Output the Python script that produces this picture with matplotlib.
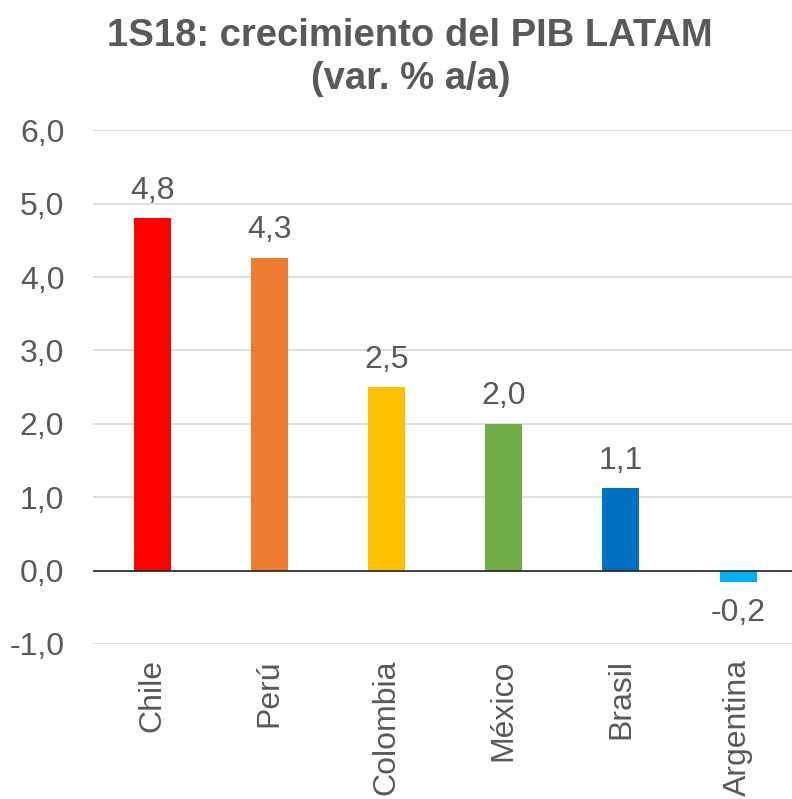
import matplotlib
matplotlib.use('Agg')
import matplotlib.pyplot as plt

plt.rcParams['font.family'] = ['Liberation Sans', 'DejaVu Sans']

paises = ['Chile', 'Perú', 'Colombia', 'México', 'Brasil', 'Argentina']
crecimiento = [4.80, 4.26, 2.50, 2.00, 1.12, -0.16]
etiquetas = ['4,8', '4,3', '2,5', '2,0', '1,1', '-0,2']
colores = ['#FF0000', '#ED7D31', '#FFC000', '#70AD47', '#0070C0', '#00B0F0']
yticks = [-1, 0, 1, 2, 3, 4, 5, 6]

GRIS = '#595959'

fig = plt.figure(figsize=(7.92, 7.99), dpi=100)
ax = fig.add_axes([0.118, 0.194, 0.888, 0.643])

x = range(len(paises))
ax.bar(x, crecimiento, width=0.315, color=colores, zorder=2)

for i, (v, lab) in enumerate(zip(crecimiento, etiquetas)):
    if v >= 0:
        ax.annotate(lab, (i, v), xytext=(0, 9), textcoords='offset points',
                    ha='center', va='bottom', fontsize=23, color=GRIS)
    else:
        ax.annotate(lab, (i, v), xytext=(0, -11), textcoords='offset points',
                    ha='center', va='top', fontsize=23, color=GRIS)

ax.set_xlim(-0.5, 5.5)
ax.set_ylim(-1, 6)
ax.set_yticks(yticks)
ax.set_yticklabels([f"{t:.1f}".replace('.', ',') for t in yticks])
ax.set_xticks(list(x))
ax.set_xticklabels(paises, rotation=90)
ax.tick_params(axis='both', length=0, labelsize=23, labelcolor=GRIS)
ax.tick_params(axis='x', pad=11)
ax.tick_params(axis='y', pad=21)
ax.grid(axis='y', color='#D9D9D9', lw=1.2, zorder=0)
ax.axhline(0, color='#262626', lw=1.2, zorder=3)
for s in ax.spines.values():
    s.set_visible(False)

fig.text(0.518, 0.977, '1S18: crecimiento del PIB LATAM\n(var. % a/a)',
         ha='center', va='top', fontsize=27.5, fontweight='bold', color=GRIS,
         linespacing=1.22)

fig.savefig('out.png', dpi=100)
